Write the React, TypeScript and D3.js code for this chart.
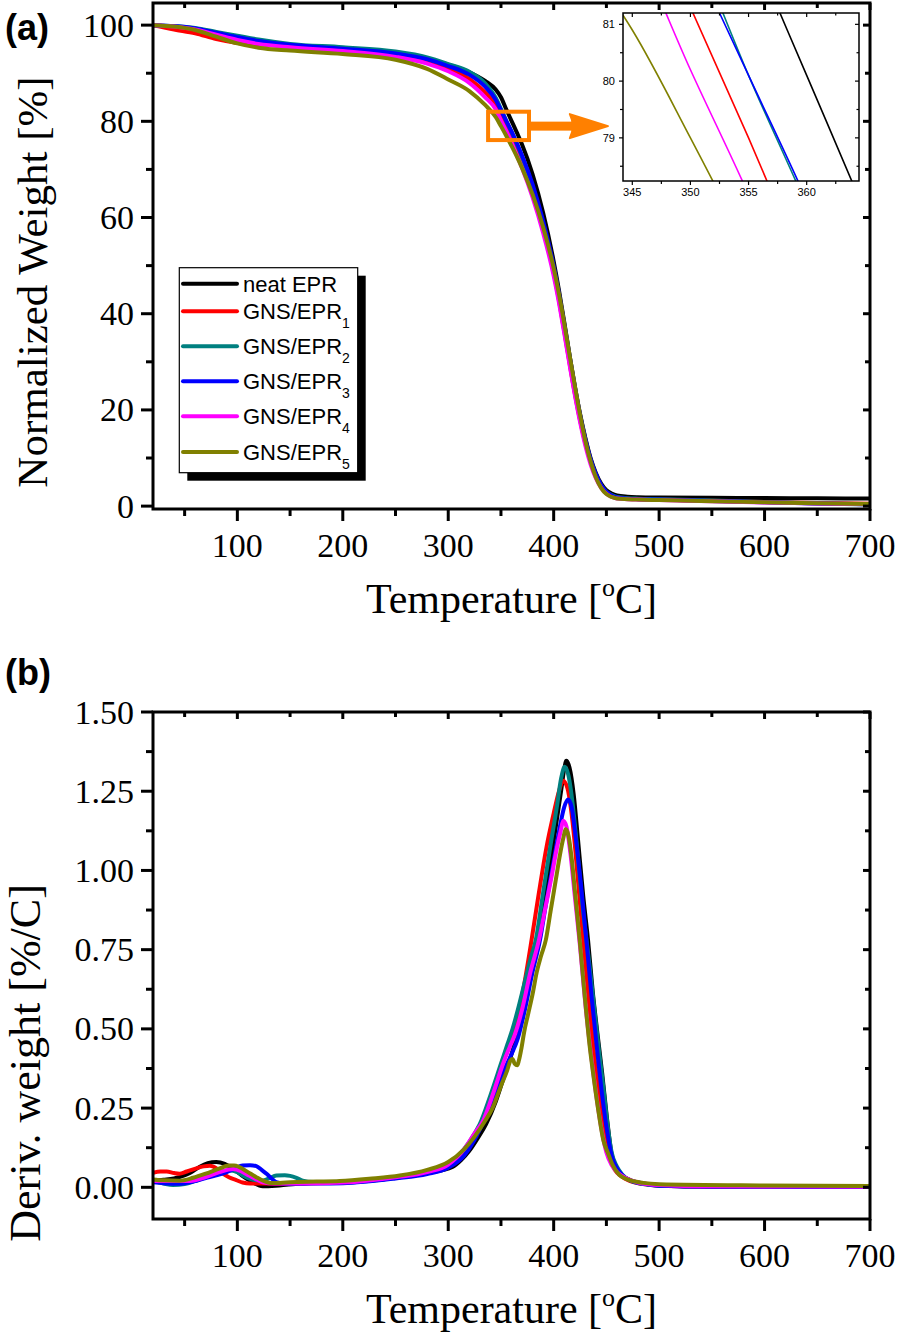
import React from 'react';
import * as d3 from 'd3';

type P = [number, number];

const seriesColors = ['#000000', '#ff0000', '#008080', '#0000ff', '#ff00ff', '#808000'];
const seriesNames = ['neat EPR', 'GNS/EPR', 'GNS/EPR', 'GNS/EPR', 'GNS/EPR', 'GNS/EPR'];
const seriesSubs = ['', '1', '2', '3', '4', '5'];

// ---------- TGA (normalized weight, %) ----------
const tgaNeat: P[] = [[20,100],[40,99.6],[60,99.0],[80,97.9],[100,97.0],[120,96.4],[150,95.8],[200,95.0],[250,93.8],[280,92.8],[300,91.8],[320,90.2],[335,88.4],[345,86.6],[350,85.0],[355,82.5],[360,80.1],[365,77.7],[370,75.2],[380,69.0],[390,61.0],[400,50.9],[405,44.9],[410,38.3],[415,31.5],[420,25.0],[425,19.2],[430,14.2],[435,10.0],[440,6.9],[445,4.7],[450,3.3],[455,2.6],[460,2.2],[470,1.95],[480,1.85],[500,1.78],[550,1.72],[600,1.67],[650,1.62],[700,1.58]];
const tga1: P[] = [[20,100],[40,99.1],[60,98.3],[80,97.1],[100,96.3],[120,96.0],[150,95.6],[200,94.9],[250,93.7],[280,92.4],[300,91.0],[320,88.8],[335,86.0],[345,83.5],[350,81.3],[355,79.0],[360,76.6],[365,74.1],[370,71.4],[380,65.3],[390,57.7],[400,48.6],[405,42.8],[410,36.4],[415,29.8],[420,23.5],[425,17.9],[430,13.1],[435,9.2],[440,6.2],[445,4.1],[450,2.8],[455,2.1],[460,1.75],[470,1.55],[480,1.45],[500,1.35],[550,1.1],[600,0.85],[650,0.65],[700,0.5]];
const tga2: P[] = [[20,100],[40,99.8],[60,99.4],[80,98.6],[100,97.8],[120,97.0],[150,96.1],[200,95.4],[250,94.5],[280,93.3],[300,91.9],[320,90.3],[335,87.9],[345,84.9],[350,82.6],[355,80.1],[360,77.8],[365,75.3],[370,72.6],[380,66.4],[390,58.6],[400,49.2],[405,43.4],[410,36.9],[415,30.3],[420,24.0],[425,18.3],[430,13.4],[435,9.4],[440,6.4],[445,4.3],[450,3.0],[455,2.3],[460,1.9],[470,1.65],[480,1.55],[500,1.45],[550,1.15],[600,0.85],[650,0.55],[700,0.35]];
const tga3: P[] = [[20,100],[40,99.8],[60,99.3],[80,98.4],[100,97.5],[120,96.7],[150,95.9],[200,95.1],[250,94.1],[280,92.9],[300,91.5],[320,89.7],[335,87.2],[345,84.5],[350,82.3],[355,80.1],[360,77.9],[365,75.5],[370,72.9],[380,66.9],[390,59.3],[400,50.0],[405,44.3],[410,37.9],[415,31.3],[420,24.9],[425,19.0],[430,14.0],[435,9.8],[440,6.7],[445,4.4],[450,2.95],[455,2.2],[460,1.8],[470,1.55],[480,1.45],[500,1.35],[550,1.05],[600,0.8],[650,0.55],[700,0.4]];
const tga4: P[] = [[20,100],[40,99.7],[60,99.1],[80,98.0],[100,96.9],[120,96.1],[150,95.4],[200,94.6],[250,93.4],[280,92.0],[300,90.4],[320,88.0],[335,85.0],[345,82.5],[350,80.2],[355,78.0],[360,75.6],[365,73.0],[370,70.3],[380,64.2],[390,56.8],[400,47.9],[405,42.3],[410,36.0],[415,29.5],[420,23.2],[425,17.5],[430,12.6],[435,8.7],[440,5.8],[445,3.8],[450,2.55],[455,1.9],[460,1.6],[470,1.45],[480,1.35],[500,1.25],[550,1.0],[600,0.75],[650,0.55],[700,0.4]];
const tga5: P[] = [[20,100],[40,99.7],[60,99.0],[80,97.6],[100,96.2],[120,95.3],[150,94.7],[200,94.0],[250,92.8],[280,90.9],[300,88.7],[320,86.3],[335,83.4],[345,80.9],[350,79.0],[355,77.0],[360,74.9],[365,72.7],[370,70.3],[380,64.8],[390,58.0],[400,49.5],[405,44.1],[410,38.0],[415,31.5],[420,25.1],[425,19.0],[430,13.6],[435,9.3],[440,6.0],[445,3.8],[450,2.5],[455,1.9],[460,1.6],[470,1.45],[480,1.35],[500,1.25],[550,1.0],[600,0.8],[650,0.6],[700,0.45]];

// ---------- DTG (deriv. weight, %/C) ----------
const dtgNeat: P[] = [[20,0.021],[30,0.024],[45,0.032],[55,0.045],[64,0.064],[72,0.076],[80,0.08],[88,0.074],[96,0.058],[104,0.038],[112,0.021],[124,0.003],[140,0.006],[160,0.012],[200,0.015],[250,0.03],[280,0.045],[304,0.064],[312,0.085],[320,0.115],[328,0.155],[336,0.2],[345,0.27],[352,0.34],[360,0.42],[370,0.54],[378,0.66],[385,0.78],[392,0.92],[398,1.05],[403,1.16],[407,1.25],[410,1.32],[412,1.346],[415,1.325],[419,1.24],[423,1.1],[428,0.92],[432.6,0.78],[437,0.62],[441,0.5],[446,0.36],[450.5,0.22],[454.8,0.107],[459,0.065],[465,0.038],[473,0.022],[485,0.012],[500,0.006],[550,0.003],[700,0.002]];
const dtg1: P[] = [[20,0.046],[27,0.05],[33,0.05],[40,0.045],[45,0.043],[52,0.05],[61,0.06],[68,0.066],[74,0.068],[80,0.06],[86,0.044],[92,0.032],[99,0.023],[105,0.015],[112,0.012],[133,0.012],[160,0.013],[200,0.016],[250,0.032],[280,0.045],[300,0.07],[315,0.11],[325,0.16],[332,0.21],[340,0.28],[350,0.38],[356,0.44],[361,0.47],[366,0.54],[372,0.64],[379,0.78],[386,0.93],[393,1.07],[400,1.18],[405,1.25],[409,1.283],[413,1.26],[418,1.15],[423,0.97],[428,0.78],[433,0.6],[438,0.43],[443,0.29],[448,0.17],[453,0.095],[458,0.055],[464,0.035],[472,0.02],[485,0.01],[500,0.005],[550,0.002],[700,0.002]];
const dtg2: P[] = [[20,0.02],[30,0.012],[39,0.007],[50,0.01],[60,0.02],[70,0.032],[80,0.045],[92,0.053],[100,0.048],[106,0.036],[112,0.027],[118,0.022],[124,0.021],[130,0.028],[137,0.037],[145,0.038],[150,0.036],[156,0.03],[162,0.021],[172,0.017],[183,0.017],[200,0.015],[250,0.03],[280,0.048],[300,0.072],[315,0.12],[325,0.17],[330,0.2],[340,0.29],[350,0.39],[356,0.45],[361,0.5],[366,0.56],[372,0.64],[378,0.72],[383,0.78],[390,0.93],[397,1.08],[403,1.2],[407,1.29],[410.5,1.327],[414,1.3],[418,1.21],[422,1.08],[427,0.9],[434,0.7],[438,0.58],[443,0.43],[447,0.32],[451,0.2],[455,0.11],[460,0.065],[465,0.04],[472,0.022],[485,0.01],[500,0.005],[550,0.003],[700,0.002]];
const dtg3: P[] = [[20,0.016],[30,0.013],[45,0.011],[58,0.018],[70,0.029],[80,0.038],[90,0.048],[98,0.06],[105,0.069],[112,0.07],[118,0.067],[123,0.055],[128,0.042],[133,0.026],[137,0.016],[145,0.012],[152,0.011],[170,0.012],[200,0.013],[250,0.028],[280,0.042],[300,0.062],[315,0.1],[325,0.15],[335,0.22],[345,0.3],[353,0.37],[360,0.42],[366,0.47],[372,0.55],[380,0.68],[387,0.78],[393,0.9],[400,1.03],[406,1.14],[410,1.2],[413.7,1.224],[417,1.2],[421,1.1],[426,0.95],[431,0.78],[436,0.6],[441,0.44],[446,0.29],[451,0.17],[455,0.1],[460,0.06],[466,0.035],[474,0.02],[488,0.01],[500,0.005],[550,0.002],[700,0.001]];
const dtg4: P[] = [[20,0.02],[35,0.02],[55,0.02],[70,0.032],[83,0.048],[96,0.058],[104,0.05],[111,0.037],[118,0.025],[124,0.016],[135,0.012],[160,0.012],[200,0.015],[250,0.032],[280,0.048],[300,0.072],[315,0.12],[325,0.17],[333,0.21],[343,0.3],[352,0.39],[358,0.44],[363,0.48],[370,0.56],[378,0.68],[386,0.78],[392,0.88],[398,0.98],[403,1.07],[407,1.13],[409,1.157],[412,1.14],[416,1.05],[420,0.92],[425,0.76],[430,0.58],[435,0.43],[440,0.3],[445,0.19],[450,0.11],[455,0.07],[461,0.045],[468,0.03],[480,0.015],[500,0.007],[550,0.003],[700,0.002]];
const dtg5: P[] = [[20,0.025],[30,0.022],[45,0.021],[58,0.03],[70,0.043],[82,0.058],[92,0.069],[97,0.069],[102,0.064],[110,0.048],[118,0.032],[125,0.02],[131,0.014],[140,0.014],[150,0.016],[175,0.018],[197,0.02],[225,0.027],[254,0.037],[280,0.055],[300,0.08],[315,0.12],[325,0.16],[335,0.21],[342,0.25],[350,0.32],[356,0.37],[359,0.4],[361,0.405],[363,0.39],[365.5,0.385],[367,0.4],[369.5,0.44],[372,0.49],[376,0.55],[380,0.61],[384,0.68],[388,0.73],[392.5,0.78],[397,0.87],[402,0.97],[406,1.05],[409,1.1],[411.5,1.13],[414,1.11],[417,1.04],[420,0.94],[424.7,0.78],[429,0.62],[434,0.45],[437.4,0.36],[442,0.25],[447,0.15],[451.6,0.107],[456,0.07],[462,0.04],[470,0.025],[485,0.014],[500,0.01],[600,0.006],[700,0.004]];

const tgaSeries = [tgaNeat, tga1, tga2, tga3, tga4, tga5];
const dtgSeries = [dtgNeat, dtg1, dtg2, dtg3, dtg4, dtg5];

// ---------- ticks ----------
const xMajorTicks = [100, 200, 300, 400, 500, 600, 700];
const xMinorTicks = [50, 150, 250, 350, 450, 550, 650];
const yMajorTicksA = [0, 20, 40, 60, 80, 100];
const yMinorTicksA = [10, 30, 50, 70, 90];
const yMajorTicksB = [0, 0.25, 0.5, 0.75, 1.0, 1.25, 1.5];
const yMinorTicksB = [0.125, 0.375, 0.625, 0.875, 1.125, 1.375];
const insetXMajor = [345, 350, 355, 360];
const insetXMinor = [347.5, 352.5, 357.5, 362.5];
const insetYMajor = [79, 80, 81];
const insetYMinor = [78.5, 79.5, 80.5];

// zoom box (data units of panel a) and arrow
const zoomBoxT = [337.8, 376.6];
const zoomBoxW = [76.1, 82.0];
const arrowT = [376.6, 415.3, 451.5];
const arrowW = 79.0;

const SERIF = '"Liberation Serif", "Times New Roman", serif';
const SANS = '"Liberation Sans", Arial, sans-serif';

export default function App() {
  const L = 153, R = 870;
  const xA = d3.scaleLinear().domain([20, 700]).range([L, R]);
  const yA = d3.scaleLinear().domain([-0.6, 104.6]).range([509, 3]);
  const yB = d3.scaleLinear().domain([-0.1, 1.5]).range([1219, 712]);
  const xI = d3.scaleLinear().domain([344.2, 364.5]).range([623, 859]);
  const yI = d3.scaleLinear().domain([78.24, 81.2]).range([181, 13]);

  const mk = (x: d3.ScaleLinear<number, number>, y: d3.ScaleLinear<number, number>) =>
    d3.line<P>().x(d => x(d[0])).y(d => y(d[1])).curve(d3.curveMonotoneX);
  const lineA = mk(xA, yA);
  const lineB = mk(xA, yB);
  const lineI = mk(xI, yI);

  const frame = (top: number, bottom: number, y: d3.ScaleLinear<number, number>, yMaj: number[], yMin: number[], yFmt: (v: number) => string) => (
    <g>
      <rect x={L} y={top} width={R - L} height={bottom - top} fill="none" stroke="#000" strokeWidth={3} />
      {xMajorTicks.map(t => (
        <g key={'xM' + t}>
          <line x1={xA(t)} x2={xA(t)} y1={bottom} y2={bottom + 12} stroke="#000" strokeWidth={3} />
          <line x1={xA(t)} x2={xA(t)} y1={top} y2={top + 7} stroke="#000" strokeWidth={3} />
          <text x={xA(t)} y={bottom + 48} textAnchor="middle" fontFamily={SERIF} fontSize={34}>{t}</text>
        </g>
      ))}
      {xMinorTicks.map(t => (
        <g key={'xm' + t}>
          <line x1={xA(t)} x2={xA(t)} y1={bottom} y2={bottom + 7} stroke="#000" strokeWidth={3} />
          <line x1={xA(t)} x2={xA(t)} y1={top} y2={top + 5} stroke="#000" strokeWidth={3} />
        </g>
      ))}
      {yMaj.map(v => (
        <g key={'yM' + v}>
          <line x1={L - 12} x2={L} y1={y(v)} y2={y(v)} stroke="#000" strokeWidth={3} />
          <line x1={R - 7} x2={R} y1={y(v)} y2={y(v)} stroke="#000" strokeWidth={3} />
          <text x={L - 19} y={y(v) + 11.5} textAnchor="end" fontFamily={SERIF} fontSize={34}>{yFmt(v)}</text>
        </g>
      ))}
      {yMin.map(v => (
        <g key={'ym' + v}>
          <line x1={L - 7} x2={L} y1={y(v)} y2={y(v)} stroke="#000" strokeWidth={3} />
          <line x1={R - 5} x2={R} y1={y(v)} y2={y(v)} stroke="#000" strokeWidth={3} />
        </g>
      ))}
      <text x={(L + R) / 2} y={bottom + 104} textAnchor="middle" fontFamily={SERIF} fontSize={42}>
        Temperature [<tspan fontSize={26} dy={-17}>o</tspan><tspan dy={17}>C]</tspan>
      </text>
    </g>
  );

  const legendRows = [291.7, 319.3, 354.3, 389.3, 424.3, 460];

  return (
    <div style={{ position: 'absolute', left: 0, top: 0 }}>
      <svg width={898} height={1337} viewBox="0 0 898 1337" style={{ display: 'block', background: '#fff' }}>
        <defs>
          <clipPath id="clipA"><rect x={L} y={3} width={R - L} height={506} /></clipPath>
          <clipPath id="clipB"><rect x={L} y={712} width={R - L} height={507} /></clipPath>
          <clipPath id="clipI"><rect x={623} y={13} width={236} height={168} /></clipPath>
        </defs>
        <rect x={0} y={0} width={898} height={1337} fill="#fff" />

        {/* ---------- Panel (a) ---------- */}
        <text x={5} y={40} fontFamily={SANS} fontWeight="bold" fontSize={36}>(a)</text>
        <g clipPath="url(#clipA)">
          {tgaSeries.map((s, i) => (
            <path key={i} d={lineA(s) || ''} fill="none" stroke={seriesColors[i]} strokeWidth={4} strokeLinejoin="round" />
          ))}
        </g>
        {frame(3, 509, yA, yMajorTicksA, yMinorTicksA, v => String(v))}
        <text transform={`translate(47,282) rotate(-90)`} textAnchor="middle" fontFamily={SERIF} fontSize={43}>Normalized Weight [%]</text>

        {/* legend */}
        <rect x={187.3} y={275.7} width={178.4} height={205} fill="#000" />
        <rect x={179.3} y={267.7} width={178.4} height={205} fill="#fff" stroke="#000" strokeWidth={1.2} />
        {seriesNames.map((n, i) => (
          <g key={'lg' + i}>
            <line x1={183} x2={237} y1={legendRows[i] - 8} y2={legendRows[i] - 8} stroke={seriesColors[i]} strokeWidth={4} strokeLinecap="round" />
            <text x={243} y={legendRows[i]} fontFamily={SANS} fontSize={22}>
              {n}
              {seriesSubs[i] && <tspan fontSize={14} dy={9}>{seriesSubs[i]}</tspan>}
            </text>
          </g>
        ))}

        {/* zoom box + arrow */}
        <rect x={xA(zoomBoxT[0])} y={yA(zoomBoxW[1])} width={xA(zoomBoxT[1]) - xA(zoomBoxT[0])} height={yA(zoomBoxW[0]) - yA(zoomBoxW[1])}
          fill="none" stroke="#ff8000" strokeWidth={4} />
        <rect x={xA(arrowT[0])} y={yA(arrowW) - 4.5} width={xA(arrowT[1]) - xA(arrowT[0]) + 4} height={9} fill="#ff8000" />
        <path d={`M${xA(arrowT[1])},${yA(arrowW) - 12} Q${xA(arrowT[1]) + 6},${yA(arrowW)} ${xA(arrowT[1])},${yA(arrowW) + 12} L${xA(arrowT[2])},${yA(arrowW)} Z`} fill="#ff8000" stroke="#ff8000" strokeWidth={2} strokeLinejoin="round" />

        {/* inset */}
        <rect x={623} y={13} width={236} height={168} fill="#fff" />
        <g clipPath="url(#clipI)">
          {tgaSeries.map((s, i) => (
            <path key={'in' + i} d={lineI(s) || ''} fill="none" stroke={seriesColors[i]} strokeWidth={1.6} />
          ))}
        </g>
        <rect x={623} y={13} width={236} height={168} fill="none" stroke="#000" strokeWidth={1.5} />
        {insetXMajor.map(t => (
          <g key={'ixM' + t}>
            <line x1={xI(t)} x2={xI(t)} y1={181} y2={185} stroke="#000" strokeWidth={1.2} />
            <line x1={xI(t)} x2={xI(t)} y1={13} y2={17} stroke="#000" strokeWidth={1.2} />
            <text x={xI(t)} y={196} textAnchor="middle" fontFamily={SANS} fontSize={11}>{t}</text>
          </g>
        ))}
        {insetXMinor.map(t => (
          <g key={'ixm' + t}>
            <line x1={xI(t)} x2={xI(t)} y1={181} y2={184} stroke="#000" strokeWidth={1.2} />
            <line x1={xI(t)} x2={xI(t)} y1={13} y2={15.5} stroke="#000" strokeWidth={1.2} />
          </g>
        ))}
        {insetYMajor.map(v => (
          <g key={'iyM' + v}>
            <line x1={619} x2={623} y1={yI(v)} y2={yI(v)} stroke="#000" strokeWidth={1.2} />
            <line x1={855} x2={859} y1={yI(v)} y2={yI(v)} stroke="#000" strokeWidth={1.2} />
            <text x={615} y={yI(v) + 4} textAnchor="end" fontFamily={SANS} fontSize={11}>{v}</text>
          </g>
        ))}
        {insetYMinor.map(v => (
          <g key={'iym' + v}>
            <line x1={620} x2={623} y1={yI(v)} y2={yI(v)} stroke="#000" strokeWidth={1.2} />
            <line x1={856.5} x2={859} y1={yI(v)} y2={yI(v)} stroke="#000" strokeWidth={1.2} />
          </g>
        ))}

        {/* ---------- Panel (b) ---------- */}
        <text x={5} y={685} fontFamily={SANS} fontWeight="bold" fontSize={36}>(b)</text>
        <g clipPath="url(#clipB)">
          {dtgSeries.map((s, i) => (
            <path key={'b' + i} d={lineB(s) || ''} fill="none" stroke={seriesColors[i]} strokeWidth={4} strokeLinejoin="round" />
          ))}
        </g>
        {frame(712, 1219, yB, yMajorTicksB, yMinorTicksB, v => d3.format('.2f')(v))}
        <text transform={`translate(40,1063) rotate(-90)`} textAnchor="middle" fontFamily={SERIF} fontSize={44}>Deriv. weight [%/C]</text>
      </svg>
    </div>
  );
}
